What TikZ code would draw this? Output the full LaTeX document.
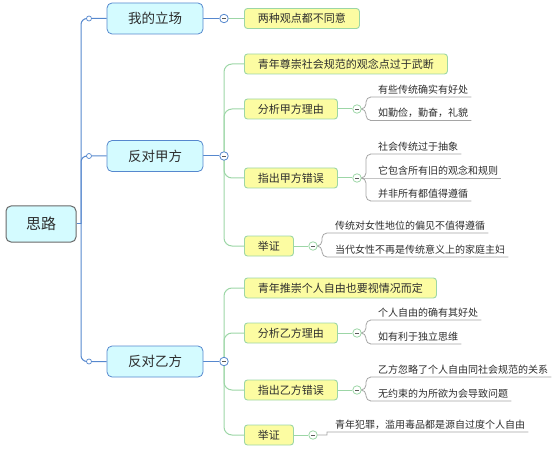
\documentclass[tikz,border=0pt]{standalone}
\usepackage{fontspec}
\setmainfont{Noto Sans CJK SC}
\usetikzlibrary{backgrounds}
\definecolor{trunkblue}{RGB}{86,136,206}
\definecolor{rootgray}{RGB}{105,105,105}
\definecolor{cyanfill}{RGB}{212,251,255}
\definecolor{yelfill}{RGB}{252,252,162}
\definecolor{yelline}{RGB}{156,214,166}
\definecolor{leafgray}{RGB}{165,165,165}
\definecolor{txt}{RGB}{45,45,45}
\tikzset{
    RT/.style ={rectangle,rounded corners=5pt,minimum width=70pt,minimum height=36pt,draw=rootgray,line width=1pt,fill=cyanfill,font=\fontsize{15}{18}\selectfont},
    B1/.style ={rectangle,rounded corners=5pt,minimum width=96pt,minimum height=31pt,draw=trunkblue,line width=0.8pt,fill=cyanfill,font=\fontsize{13.5}{16}\selectfont},
    YB/.style ={rectangle,rounded corners=3pt,minimum height=20pt,inner xsep=13.5pt,inner ysep=0pt,draw=yelline,line width=0.9pt,fill=yelfill,anchor=west,font=\fontsize{11}{13}\selectfont},
    LF/.style ={inner xsep=3pt,inner ysep=2.5pt,anchor=south west,font=\fontsize{10}{12}\selectfont},
    DT/.style ={circle,inner sep=0pt,minimum size=5pt,draw=trunkblue,fill=white,line width=0.7pt},
    MN/.style ={circle,inner sep=0pt,minimum size=8.5pt,fill=white,line width=0.8pt,
        path picture={\draw[line width=0.8pt,black!65] ([xshift=-2pt]path picture bounding box.center) -- ([xshift=2pt]path picture bounding box.center);}},
    M1/.style ={MN,draw=trunkblue},
    M2/.style ={MN,draw=yelline},
    LB/.style ={draw=trunkblue,line width=1pt,rounded corners=6pt},
    LG/.style ={draw=yelline,line width=1pt,rounded corners=8pt},
    LY/.style ={draw=leafgray,line width=0.8pt,rounded corners=5pt}}
\begin{document}
\begin{tikzpicture}[x=1pt,y=-1pt,every node/.append style={text=txt}]
        \useasboundingbox (0,0) rectangle (554,449);
        \node[RT] (root) at (41,224) {思路};
        \coordinate (tr) at (81,224);
        \node[B1] (b1) at (155,18.5) {我的立场};
        \node[B1] (b2) at (155,156) {反对甲方};
        \node[B1] (b3) at (155,361.5) {反对乙方};
        \node[DT] (d1) at (89,18.5) {};
        \node[DT] (d2) at (89,156) {};
        \node[DT] (d3) at (89,361.5) {};
        \node[M1] (m1) at (224,18.5) {};
        \node[M1] (m2) at (224,156) {};
        \node[M1] (m3) at (224,361.5) {};
        \node[YB] (y11) at (244,18.5) {两种观点都不同意};
        \node[YB] (y21) at (244,64) {青年尊崇社会规范的观念点过于武断};
        \node[YB] (y22) at (244,109) {分析甲方理由};
        \node[YB] (y23) at (244,178) {指出甲方错误};
        \node[YB] (y24) at (244,246) {举证};
        \node[YB] (y31) at (244,288) {青年推崇个人自由也要视情况而定};
        \node[YB] (y32) at (244,333) {分析乙方理由};
        \node[YB] (y33) at (244,390) {指出乙方错误};
        \node[YB] (y34) at (244,435) {举证};
        \node[M2] (g22) at (357,109) {};
        \node[M2] (g23) at (357,178) {};
        \node[M2] (g24) at (313,246) {};
        \node[M2] (g32) at (357,333) {};
        \node[M2] (g33) at (357,390) {};
        \node[M2] (g34) at (313,435) {};
        \node[LF] (l221) at (375,97) {有些传统确实有好处};
        \node[LF] (l222) at (375,120.5) {如勤俭，勤奋，礼貌};
        \node[LF] (l231) at (375,154) {社会传统过于抽象};
        \node[LF] (l232) at (375,178) {它包含所有旧的观念和规则};
        \node[LF] (l233) at (375,201) {并非所有都值得遵循};
        \node[LF] (l241) at (332,233) {传统对女性地位的偏见不值得遵循};
        \node[LF] (l242) at (332,257) {当代女性不再是传统意义上的家庭主妇};
        \node[LF] (l321) at (375,320) {个人自由的确有其好处};
        \node[LF] (l322) at (375,344) {如有利于独立思维};
        \node[LF] (l331) at (375,377) {乙方忽略了个人自由同社会规范的关系};
        \node[LF] (l332) at (375,401) {无约束的为所欲为会导致问题};
        \node[LF] (l341) at (332,432) {青年犯罪，滥用毒品都是源自过度个人自由};
        \begin{scope}[on background layer]
        \draw[LB] (root.east) -- (tr);
        \foreach \i in {1,2,3}{
            \draw[LB] (tr) |- (d\i) -- (b\i.west);
            \draw[LB] (b\i.east) -- (m\i);}
        \draw[LG] (m1) -- (y11.west);
        \foreach \j in {1,...,4}{
            \draw[LG] (m2.center) |- (y2\j.west);
            \draw[LG] (m3.center) |- (y3\j.west);}
        \foreach \k in {22,23,24,32,33,34}{
            \draw[LG] (y\k.east) -- (g\k);}
        \foreach \k in {221,222,231,233,321,322,331,332}{
            \pgfmathtruncatemacro{\g}{\k/10}
            \draw[LY] (g\g.center) -- ++(9,0) |- (l\k.south west) -- (l\k.south east);}
        \foreach \k in {241,242}{
            \draw[LY] (g24.center) -- ++(9,0) |- (l\k.south west) -- (l\k.south east);}
        \draw[LY] (g23.center) -- (l232.south west) -- (l232.south east);
        \draw[LY] (g34.center) -- ++(9,0) to[out=0,in=180] (l341.south west) -- (l341.south east);
        \end{scope}
    \end{tikzpicture}
\end{document}
